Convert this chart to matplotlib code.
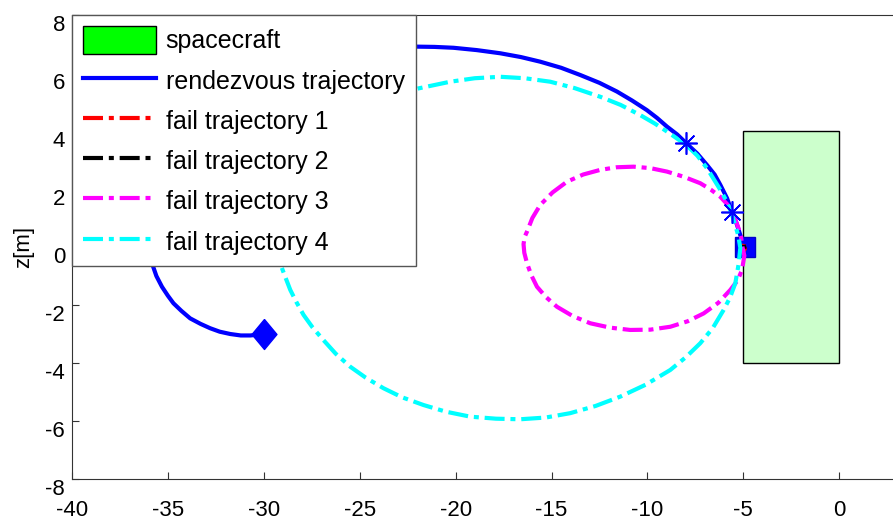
import numpy as np
import matplotlib.pyplot as plt
import matplotlib.transforms as mtransforms
from matplotlib.patches import Rectangle, Patch
from matplotlib.lines import Line2D

plt.rcParams['font.family'] = ['Liberation Sans', 'DejaVu Sans']
plt.rcParams['axes.unicode_minus'] = False

# spacecraft body (x0, z0, width, height)
craft = [-5.0, -4.0, 5.0, 8.0]

# rendezvous trajectory
rdv_x = [-30.0, -30.7, -31.2, -31.75, -32.3, -32.8, -33.3, -33.84, -34.3, -34.71,
         -35.0, -35.31, -35.6, -35.83, -36.0, -35.9, -35.6, -35.1, -34.6, -33.9,
         -33.0, -32.0, -30.8, -29.5, -28.0, -26.5, -25.0, -23.5, -22.11, -21.1,
         -20.11, -18.9, -17.67, -16.6, -15.59, -14.5, -13.5, -12.5, -11.59, -10.8,
         -10.03, -9.5, -8.98, -8.45, -7.98, -7.4, -6.9, -6.5, -6.2, -5.85,
         -5.59, -5.35, -5.16, -5.0, -4.9]
rdv_z = [-3.0, -3.05, -3.05, -3.0, -2.92, -2.8, -2.65, -2.46, -2.2, -1.94,
         -1.68, -1.37, -1.0, -0.56, 0.3, 1.0, 1.8, 2.6, 3.3, 3.95,
         4.6, 5.15, 5.7, 6.1, 6.5, 6.75, 6.9, 6.93, 6.91, 6.9,
         6.87, 6.79, 6.68, 6.55, 6.39, 6.18, 5.93, 5.66, 5.36, 5.05,
         4.72, 4.45, 4.15, 3.88, 3.58, 3.22, 2.83, 2.5, 2.14, 1.68,
         1.2, 0.8, 0.41, 0.15, 0.0]

# fail trajectories
f1_x = [-4.95, -5.0, -4.95, -4.9]
f1_z = [0.1, 0.0, -0.1, 0.0]
f2_x = [-5.25, -5.1, -4.95, -4.85]
f2_z = [0.02, 0.0, 0.0, 0.02]
f3_x = [-5.59, -5.4, -5.25, -5.12, -5.07, -4.95, -5.07, -5.3, -5.68, -6.3,
        -7.07, -7.9, -8.81, -9.85, -10.9, -11.95, -12.98, -13.9, -14.72, -15.3,
        -15.76, -16.05, -16.28, -16.42, -16.46, -16.4, -16.28, -16.0, -15.59, -14.95,
        -14.2, -13.35, -12.46, -11.6, -10.72, -9.85, -8.98, -8.1, -7.25, -6.7,
        -6.2, -5.85, -5.59]
f3_z = [1.22, 0.92, 0.64, 0.35, 0.07, -0.3, -0.79, -1.15, -1.48, -1.92,
        -2.29, -2.56, -2.75, -2.85, -2.86, -2.78, -2.63, -2.38, -2.06, -1.72,
        -1.37, -0.98, -0.56, -0.2, 0.1, 0.35, 0.53, 1.0, 1.45, 1.88,
        2.25, 2.5, 2.66, 2.75, 2.77, 2.72, 2.6, 2.42, 2.2, 1.98,
        1.73, 1.48, 1.22]
f4_x = [-7.98, -7.4, -6.9, -6.2, -5.85, -5.59, -5.27, -5.16, -5.25, -5.42,
        -5.7, -6.03, -6.6, -7.25, -8.0, -8.81, -10.1, -11.42, -12.7, -14.03,
        -15.3, -16.63, -17.9, -19.24, -20.5, -21.67, -22.8, -23.76, -24.7, -25.49,
        -26.25, -26.89, -27.45, -27.93, -28.3, -28.62, -28.9, -29.15, -29.3, -29.3,
        -29.15, -28.8, -28.2, -27.4, -26.5, -25.5, -24.5, -23.2, -21.93, -20.28,
        -19.0, -17.67, -16.4, -15.07, -13.8, -12.46, -11.4, -10.38, -9.6, -8.98,
        -7.98]
f4_z = [3.52, 3.15, 2.72, 1.97, 1.55, 1.1, 0.41, -0.03, -0.6, -1.25,
        -1.75, -2.17, -2.8, -3.32, -3.8, -4.24, -4.75, -5.16, -5.48, -5.73,
        -5.88, -5.94, -5.92, -5.85, -5.68, -5.45, -5.18, -4.87, -4.5, -4.13,
        -3.68, -3.21, -2.78, -2.34, -1.9, -1.48, -1.0, -0.56, 0.0, 0.4,
        1.0, 1.9, 2.7, 3.4, 4.05, 4.55, 4.95, 5.25, 5.47, 5.7,
        5.82, 5.87, 5.82, 5.7, 5.48, 5.18, 4.9, 4.55, 4.25, 3.98,
        3.52]

# markers: start, fail points, end
start_pt = (-30.0, -3.0)
fail_x = [-7.98, -5.59]
fail_z = [3.58, 1.2]
end_pt = (-4.9, 0.0)

x_ticks = [-40, -35, -30, -25, -20, -15, -10, -5, 0]
z_ticks = [-8, -6, -4, -2, 0, 2, 4, 6, 8]

fig = plt.figure(figsize=(8.93, 5.21), dpi=100)
ax = fig.add_axes([0.0806, 0.0806, 0.9194, 0.8906])

ax.add_patch(Rectangle((craft[0], craft[1]), craft[2], craft[3],
                       facecolor='#ccffcc', edgecolor='black', lw=1.0, zorder=1))

dd = (0, (4.8, 1.4, 1.2, 1.4))
ax.plot(rdv_x, rdv_z, color='#0000ff', lw=3, solid_joinstyle='round', zorder=2)

diamond = [(0, 1), (0.83, 0), (0, -1), (-0.83, 0), (0, 1)]
ax.plot(*start_pt, marker=diamond, ms=21.6, color='#0000ff', zorder=3)
ax.plot(*end_pt, marker='s', ms=14, color='#0000ff', mec='#0000cc', zorder=3)

for fx, fz, c in [(f1_x, f1_z, 'red'), (f2_x, f2_z, 'black'),
                  (f3_x, f3_z, '#ff00ff'), (f4_x, f4_z, '#00ffff')]:
    ax.plot(fx, fz, color=c, lw=3, ls=dd, dash_joinstyle='round', zorder=4)

ax.plot(fail_x, fail_z, ls='none', marker=(8, 2, 0), ms=16, mew=1.2,
        color='#0000ff', zorder=5)

ax.set_xlim(-40, 2.8)
ax.set_ylim(-8, 8)
ax.set_xticks(x_ticks)
ax.set_yticks(z_ticks)
ax.tick_params(direction='in', length=5, width=0.8, labelsize=16, color='#333333')
ax.tick_params(axis='x', pad=15)
ax.tick_params(axis='y', pad=5)
for lab in ax.get_yticklabels():
    lab.set_transform(lab.get_transform() +
                      mtransforms.ScaledTranslation(0, -6 / 72, fig.dpi_scale_trans))
ax.spines['right'].set_visible(False)
for s in ['left', 'bottom', 'top']:
    ax.spines[s].set_color('#333333')
    ax.spines[s].set_linewidth(0.8)
ax.set_ylabel('z[m]', fontsize=16, labelpad=8)

handles = [
    Patch(facecolor='#00ff00', edgecolor='black', lw=1),
    Line2D([], [], color='#0000ff', lw=3),
    Line2D([], [], color='red', lw=3, ls=dd),
    Line2D([], [], color='black', lw=3, ls=dd),
    Line2D([], [], color='#ff00ff', lw=3, ls=dd),
    Line2D([], [], color='#00ffff', lw=3, ls=dd),
]
labels = ['spacecraft', 'rendezvous trajectory', 'fail trajectory 1',
          'fail trajectory 2', 'fail trajectory 3', 'fail trajectory 4']
leg = ax.legend(handles, labels, loc='upper left', bbox_to_anchor=(0, 1),
                borderaxespad=0, fontsize=18, handlelength=2.9, handleheight=1.3,
                handletextpad=0.4, labelspacing=0.52, borderpad=0.45,
                fancybox=False, framealpha=1, edgecolor='#555555')
leg.get_frame().set_linewidth(1.0)
leg.set_zorder(10)

fig.savefig('out.png', dpi=100)
